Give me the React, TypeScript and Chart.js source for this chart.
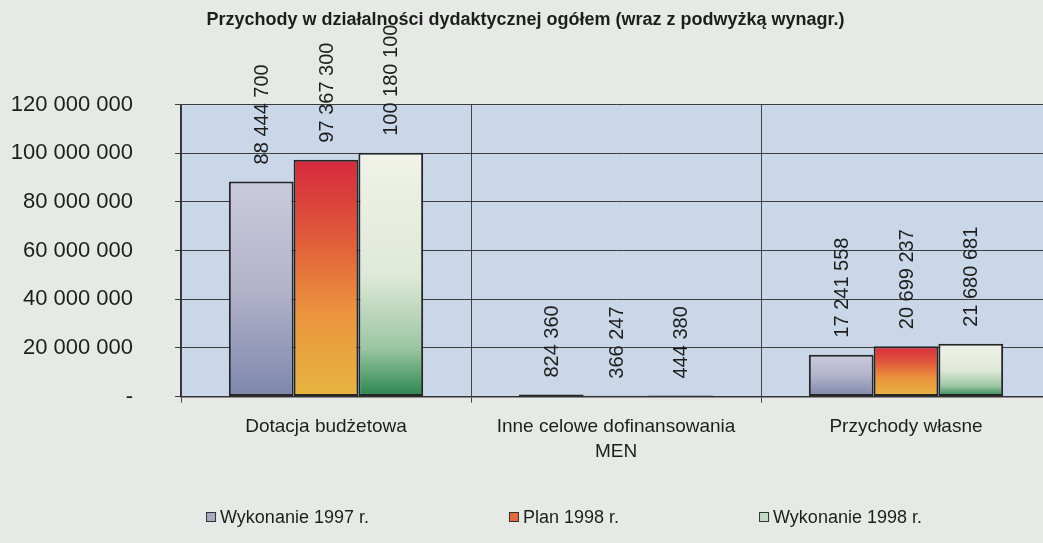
import React, { useEffect, useRef } from "react";
import { Chart, registerables } from "chart.js";

Chart.register(...registerables);

const TITLE = "Przychody w działalności dydaktycznej ogółem (wraz z podwyżką wynagr.)";
const categories: (string | string[])[] = [
  "Dotacja budżetowa",
  ["Inne celowe dofinansowania", "MEN"],
  "Przychody własne",
];
const seriesNames = ["Wykonanie 1997 r.", "Plan 1998 r.", "Wykonanie 1998 r."];
const wykonanie1997 = [88444700, 824360, 17241558];
const plan1998 = [97367300, 366247, 20699237];
const wykonanie1998 = [100180100, 444380, 21680681];
const yTicks = [0, 20000000, 40000000, 60000000, 80000000, 100000000, 120000000];

const FONT = "'Liberation Sans', Arial, Helvetica, sans-serif";
const TEXT = "#1e1e1e";

const fmt = (n: number) => String(n).replace(/\B(?=(\d{3})+(?!\d))/g, " ");

type Stop = [number, string];
const grad1: Stop[] = [[0, "#cbc9dd"], [0.5, "#b3b3ca"], [1, "#7e87ab"]];
const grad2: Stop[] = [[0, "#d52a3d"], [0.3, "#e0553a"], [0.65, "#eb953d"], [1, "#e7b542"]];
const grad3: Stop[] = [[0, "#f1f2e8"], [0.5, "#dfe9d8"], [0.8, "#9cc6a2"], [1, "#2a8650"]];
const legendColors = ["#a9a9c2", "#e06a3c", "#c4dcc4"];

const gradientFill = (stops: Stop[]) => (ctx: any) => {
  const chart = ctx.chart;
  if (ctx.type !== "data") return stops[1][1];
  const ys = chart.scales && chart.scales.y;
  const v = typeof ctx.raw === "number" ? ctx.raw : 0;
  if (!ys || !chart.chartArea) return stops[1][1];
  const top = ys.getPixelForValue(v);
  const base = ys.getPixelForValue(0);
  if (!isFinite(top) || !isFinite(base) || Math.abs(base - top) < 1) return stops[stops.length - 1][1];
  const g = chart.ctx.createLinearGradient(0, top, 0, base);
  stops.forEach(([o, c]) => g.addColorStop(o, c));
  return g;
};

const plotBg = {
  id: "plotBg",
  beforeDraw(chart: any) {
    const { ctx, chartArea } = chart;
    if (!chartArea) return;
    ctx.save();
    ctx.fillStyle = "#c9d7e8";
    ctx.fillRect(chartArea.left, chartArea.top, chartArea.right - chartArea.left, chartArea.bottom - chartArea.top);
    ctx.restore();
  },
};

const valueLabels = {
  id: "valueLabels",
  afterDatasetsDraw(chart: any) {
    const { ctx } = chart;
    ctx.save();
    ctx.font = `20px ${FONT}`;
    ctx.fillStyle = TEXT;
    ctx.textAlign = "left";
    ctx.textBaseline = "middle";
    chart.data.datasets.forEach((ds: any, di: number) => {
      const meta = chart.getDatasetMeta(di);
      meta.data.forEach((el: any, i: number) => {
        const v = ds.data[i];
        ctx.save();
        ctx.translate(el.x, el.y - 17);
        ctx.rotate(-Math.PI / 2);
        ctx.fillText(fmt(v), 0, 1);
        ctx.restore();
      });
    });
    ctx.restore();
  },
};

const customLegend = {
  id: "customLegend",
  afterDraw(chart: any, _args: any, opts: any) {
    const { ctx } = chart;
    ctx.save();
    ctx.font = `18px ${FONT}`;
    ctx.textBaseline = "middle";
    ctx.textAlign = "left";
    const box = 10;
    const boxGap = 4;
    const gap = opts.gap;
    const items = chart.data.datasets.map((ds: any, i: number) => ({
      label: ds.label,
      color: legendColors[i],
      w: box + boxGap + ctx.measureText(ds.label).width,
    }));
    const total = items.reduce((s: number, it: any) => s + it.w, 0) + gap * (items.length - 1);
    let x = opts.centerX - total / 2;
    const y = opts.y;
    items.forEach((it: any) => {
      ctx.fillStyle = it.color;
      ctx.fillRect(x, y - box / 2, box, box);
      ctx.strokeStyle = "#333";
      ctx.lineWidth = 1;
      ctx.strokeRect(x + 0.5, y - box / 2 + 0.5, box - 1, box - 1);
      ctx.fillStyle = TEXT;
      ctx.fillText(it.label, x + box + boxGap, y + 1);
      x += it.w + gap;
    });
    ctx.restore();
  },
};

export default function App() {
  const ref = useRef<HTMLCanvasElement | null>(null);

  useEffect(() => {
    if (!ref.current) return;
    Chart.defaults.font.family = FONT;
    Chart.defaults.color = TEXT;
    const series = [wykonanie1997, plan1998, wykonanie1998];
    const grads = [grad1, grad2, grad3];
    const chart = new Chart(ref.current, {
      type: "bar",
      data: {
        labels: categories,
        datasets: series.map((d, i) => ({
          label: seriesNames[i],
          data: d,
          backgroundColor: gradientFill(grads[i]),
          borderColor: "#262626",
          borderWidth: 2,
          borderSkipped: false,
          barPercentage: 1,
          categoryPercentage: 0.67,
        })),
      },
      options: {
        animation: false,
        responsive: false,
        maintainAspectRatio: false,
        layout: { padding: { left: 0, right: 5, top: 7, bottom: 67 } },
        plugins: {
          legend: { display: false },
          tooltip: { enabled: false },
          title: {
            display: true,
            text: TITLE,
            color: TEXT,
            font: { family: FONT, size: 18, weight: "bold" },
            padding: { top: 2, bottom: 74 },
          },
          customLegend: { centerX: 564, y: 517, gap: 140 },
        } as any,
        scales: {
          x: {
            grid: { display: true, offset: true, color: "#444", lineWidth: 1, tickLength: 6, drawTicks: true },
            border: { display: true, color: "#333", width: 1.5 },
            ticks: { color: TEXT, font: { family: FONT, size: 19, lineHeight: 1.3 }, padding: 12, maxRotation: 0, autoSkip: false },
          },
          y: {
            min: 0,
            max: 120000000,
            afterFit(scale: any) {
              scale.width = 181;
            },
            afterBuildTicks(scale: any) {
              scale.ticks = yTicks.map((v) => ({ value: v }));
            },
            grid: { color: "#3c3c3c", lineWidth: 1, tickLength: 6, drawTicks: true },
            border: { display: true, color: "#333", width: 1.5 },
            ticks: {
              color: TEXT,
              font: { family: FONT, size: 22 },
              padding: 42,
              callback: (v: any) => (Number(v) === 0 ? "-" : fmt(Number(v))),
            },
          },
        },
      },
      plugins: [plotBg, valueLabels, customLegend],
    });
    return () => chart.destroy();
  }, []);

  return (
    <div
      style={{
        position: "fixed",
        left: 0,
        top: 0,
        width: 1043,
        height: 543,
        overflow: "hidden",
        background: "#e6e9e6",
      }}
    >
      <canvas ref={ref} width={1056} height={543} style={{ display: "block", width: 1056, height: 543 }} />
    </div>
  );
}
